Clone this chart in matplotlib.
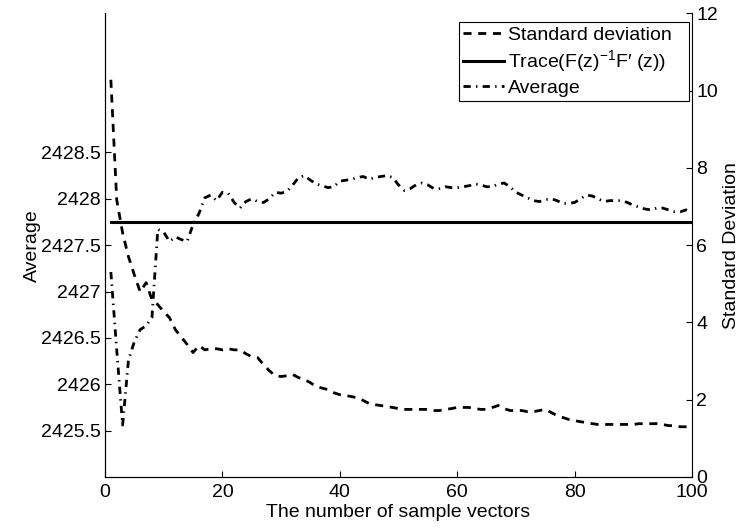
import matplotlib
matplotlib.use("Agg")
import matplotlib.pyplot as plt
from matplotlib.ticker import FixedLocator, FuncFormatter

plt.rcParams['font.family'] = ['Liberation Sans', 'DejaVu Sans']
plt.rcParams['mathtext.fontset'] = 'custom'
plt.rcParams['mathtext.rm'] = 'Liberation Sans'
plt.rcParams['mathtext.it'] = 'Liberation Sans:italic'
FS = 14

# number of sample vectors
n_samples = list(range(1, 101))

# running standard deviation of the estimate
std_dev = [
    10.28, 7.17, 6.32, 5.70, 5.23, 4.79, 5.03, 4.59, 4.46, 4.28,
    4.12, 3.81, 3.62, 3.43, 3.22, 3.40, 3.29, 3.32, 3.32, 3.29,
    3.32, 3.29, 3.29, 3.19, 3.11, 3.09, 2.91, 2.75, 2.62, 2.60,
    2.62, 2.65, 2.57, 2.52, 2.44, 2.34, 2.30, 2.26, 2.18, 2.13,
    2.11, 2.08, 2.05, 1.98, 1.90, 1.87, 1.85, 1.82, 1.80, 1.77,
    1.75, 1.75, 1.75, 1.75, 1.75, 1.72, 1.72, 1.75, 1.77, 1.80,
    1.80, 1.80, 1.77, 1.75, 1.75, 1.80, 1.85, 1.77, 1.72, 1.72,
    1.72, 1.69, 1.69, 1.72, 1.75, 1.67, 1.59, 1.54, 1.49, 1.46,
    1.43, 1.41, 1.38, 1.36, 1.36, 1.36, 1.36, 1.36, 1.36, 1.36,
    1.38, 1.38, 1.38, 1.38, 1.36, 1.33, 1.33, 1.30, 1.30, 1.30,
]

# running average of the estimate
average = [
    2427.21, 2426.37, 2425.56, 2426.26, 2426.46, 2426.59, 2426.63, 2426.72, 2427.67, 2427.64,
    2427.54, 2427.59, 2427.56, 2427.54, 2427.72, 2427.84, 2428.01, 2428.04, 2427.98, 2428.07,
    2428.06, 2427.96, 2427.90, 2427.97, 2428.00, 2427.97, 2427.96, 2428.00, 2428.07, 2428.06,
    2428.08, 2428.15, 2428.23, 2428.25, 2428.20, 2428.16, 2428.14, 2428.12, 2428.13, 2428.19,
    2428.20, 2428.21, 2428.23, 2428.24, 2428.21, 2428.23, 2428.24, 2428.25, 2428.23, 2428.15,
    2428.09, 2428.11, 2428.15, 2428.17, 2428.15, 2428.11, 2428.11, 2428.13, 2428.12, 2428.12,
    2428.13, 2428.14, 2428.16, 2428.15, 2428.13, 2428.13, 2428.16, 2428.17, 2428.13, 2428.07,
    2428.04, 2428.01, 2427.98, 2427.97, 2427.99, 2428.00, 2427.98, 2427.95, 2427.95, 2427.96,
    2428.00, 2428.04, 2428.03, 2428.00, 2427.97, 2427.98, 2427.98, 2427.98, 2427.96, 2427.93,
    2427.91, 2427.89, 2427.88, 2427.90, 2427.90, 2427.88, 2427.86, 2427.86, 2427.88, 2427.86,
]

# exact trace value
trace_value = 2427.75

x_ticks = [0, 20, 40, 60, 80, 100]
avg_ticks = [2425.5, 2426, 2426.5, 2427, 2427.5, 2428, 2428.5]
std_ticks = [0, 2, 4, 6, 8, 10, 12]

fig = plt.figure(figsize=(7.42, 5.28), dpi=100)
ax = fig.add_axes([0.1415, 0.0966, 0.7911, 0.8782])
ax2 = ax.twinx()

lw = 2.0
avg_line, = ax.plot(n_samples, average, color='black', lw=lw,
                    dashes=(2.6, 1.9, 0.5, 1.9), label='Average')
trace_line, = ax.plot([n_samples[0], n_samples[-1]], [trace_value, trace_value],
                      color='black', lw=2.2, label=r'Trace(F(z)$^{-1}$F′ (z))')
std_line, = ax2.plot(n_samples, std_dev, color='black', lw=lw,
                     dashes=(2.9, 2.4), label='Standard deviation')

ax.set_xlim(0, 100)
ax.set_ylim(2425, 2430)
ax2.set_ylim(0, 12)

ax.xaxis.set_major_locator(FixedLocator(x_ticks))
ax.yaxis.set_major_locator(FixedLocator(avg_ticks))
ax.yaxis.set_major_formatter(FuncFormatter(lambda v, p: f"{v:g}"))
ax2.yaxis.set_major_locator(FixedLocator(std_ticks))
ax2.yaxis.set_major_formatter(FuncFormatter(lambda v, p: f"{v:g}"))

for a in (ax, ax2):
    a.spines['top'].set_visible(False)
    for s in a.spines.values():
        s.set_linewidth(0.8)
    a.tick_params(direction='in', length=4, width=0.8, labelsize=FS, pad=3)
ax.tick_params(axis='x', pad=5)
ax.spines['right'].set_visible(False)

ax.set_xlabel('The number of sample vectors', fontsize=FS, labelpad=2)
ax.set_ylabel('Average', fontsize=FS, labelpad=0)
ax2.set_ylabel('Standard Deviation', fontsize=FS, labelpad=4)

leg = ax2.legend(handles=[std_line, trace_line, avg_line], loc='upper left',
                 bbox_to_anchor=(0.603, 0.0, 0.392, 0.981), mode='expand',
                 borderaxespad=0, fancybox=False,
                 edgecolor='black', framealpha=1, handlelength=2.1,
                 handletextpad=0.2, labelspacing=0.25, borderpad=0.2,
                 fontsize=FS)
leg.get_frame().set_linewidth(0.8)

fig.savefig('out.png', dpi=100)
